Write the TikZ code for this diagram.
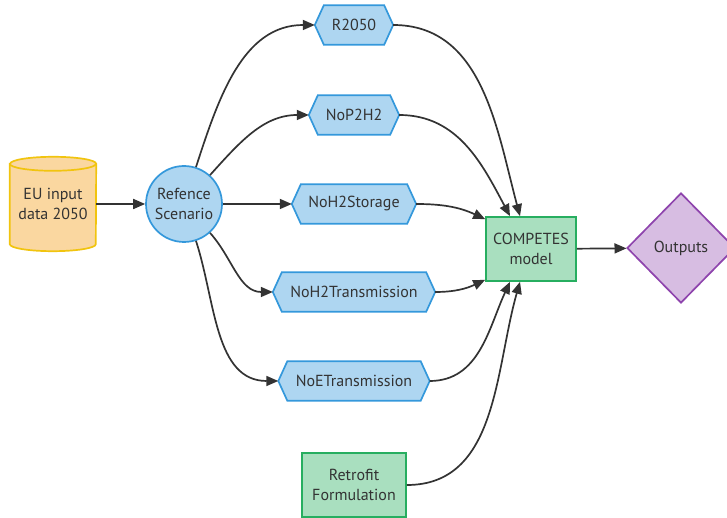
\documentclass[tikz,border=0pt]{standalone}
\usepackage{fontspec}
\setmainfont{PT Sans}
\usetikzlibrary{arrows.meta,shapes.geometric}
\pgfdeclarelayer{background}
\pgfsetlayers{background,main}
\definecolor{txt}{HTML}{333333}
\definecolor{bluefill}{HTML}{AED6F1}
\definecolor{bluedraw}{HTML}{3498DB}
\definecolor{greenfill}{HTML}{A9DFBF}
\definecolor{greendraw}{HTML}{27AE60}
\definecolor{purplefill}{HTML}{D7BDE2}
\definecolor{purpledraw}{HTML}{8E44AD}
\definecolor{orangefill}{HTML}{FAD7A0}
\definecolor{orangedraw}{HTML}{F1C40F}
\tikzset{
  lbl/.style={text=txt, font=\fontsize{16}{20}\selectfont, align=center, inner sep=0pt},
  hexbox/.style={lbl, minimum height=39pt},
  hexline/.style={fill=bluefill, draw=bluedraw, line width=1.7pt, line join=miter},
  greenbox/.style={lbl, rectangle, fill=greenfill, draw=greendraw, line width=1.7pt},
  conn/.style={draw=txt, line width=1.7pt, -{Triangle[length=12pt,width=10pt]}}
}
\newcommand\hexnode[4]{%
  \node[hexbox, minimum width=#3] (#1) at (#2) {#4};
  \coordinate (#1-l) at ([xshift=-9pt]#1.west);
  \coordinate (#1-r) at ([xshift=9pt]#1.east);
  \begin{pgfonlayer}{background}
  \filldraw[hexline] (#1-l) -- (#1.north west) -- (#1.north east) -- (#1-r) -- (#1.south east) -- (#1.south west) -- cycle;
  \end{pgfonlayer}}
\begin{document}
\begin{tikzpicture}[x=1pt,y=1pt]
\useasboundingbox (0,0) rectangle (727,518);
% cylinder
\node[lbl, minimum width=86pt, minimum height=80pt] (eu) at (53,314) {EU input\\data 2050};
\begin{pgfonlayer}{background}
\filldraw[fill=orangefill, draw=orangedraw, line width=1.7pt]
  (eu.north west) -- (eu.south west) arc[start angle=180, end angle=360, x radius=43pt, y radius=7pt]
  -- (eu.north east) arc[start angle=0, end angle=180, x radius=43pt, y radius=7pt] -- cycle;
\draw[draw=orangedraw, line width=1.7pt] (eu.north west) arc[start angle=180, end angle=360, x radius=43pt, y radius=7pt];
\end{pgfonlayer}
% circle
\node[lbl, circle, fill=bluefill, draw=bluedraw, line width=1.7pt, minimum size=76pt] (ref) at (184,314) {Refence\\Scenario};
% hexagons
\hexnode{r2050}{354,493}{60pt}{R2050}
\hexnode{nop}{354,403}{72pt}{NoP2H2}
\hexnode{sto}{354,314}{106pt}{NoH2Storage}
\hexnode{htr}{354,226}{144pt}{NoH2Transmission}
\hexnode{etr}{354,137}{133pt}{NoETransmission}
% boxes
\node[greenbox, minimum width=104pt, minimum height=64pt] (retro) at (354,33) {Retrofit\\Formulation};
\node[greenbox, minimum width=90pt, minimum height=64pt] (comp) at (531,269) {COMPETES\\model};
\node[lbl, diamond, aspect=1, fill=purplefill, draw=purpledraw, line width=1.7pt, minimum width=108pt, minimum height=110pt] (out) at (681,270) {Outputs};
% target coordinates
\coordinate (ct1) at ([xshift=-21pt]comp.north);
\coordinate (ct2) at ([xshift=-11pt]comp.north);
\coordinate (cl1) at ([yshift=-3pt]comp.north west);
\coordinate (cl2) at ([yshift=2pt]comp.south west);
\coordinate (cb1) at ([xshift=-21pt]comp.south);
\coordinate (cb2) at ([xshift=-11pt]comp.south);
% edges
\draw[conn] (eu) -- (ref);
\draw[conn] (ref) to[out=72, in=180] (r2050-l);
\draw[conn] (ref) to[out=48, in=180] (nop-l);
\draw[conn] (ref) -- (sto-l);
\draw[conn] (ref) to[out=-48, in=180] (htr-l);
\draw[conn] (ref) to[out=-72, in=180] (etr-l);
\draw[conn] (r2050-r) to[out=0, in=105] (ct2);
\draw[conn] (nop-r) to[out=0, in=118] (ct1);
\draw[conn] (sto-r) to[out=0, in=155] (cl1);
\draw[conn] (htr-r) to[out=0, in=205] (cl2);
\draw[conn] (etr-r) to[out=0, in=245] (cb1);
\draw[conn] (retro) to[out=0, in=254] (cb2);
\draw[conn] (comp) -- (out);
\end{tikzpicture}
\end{document}
